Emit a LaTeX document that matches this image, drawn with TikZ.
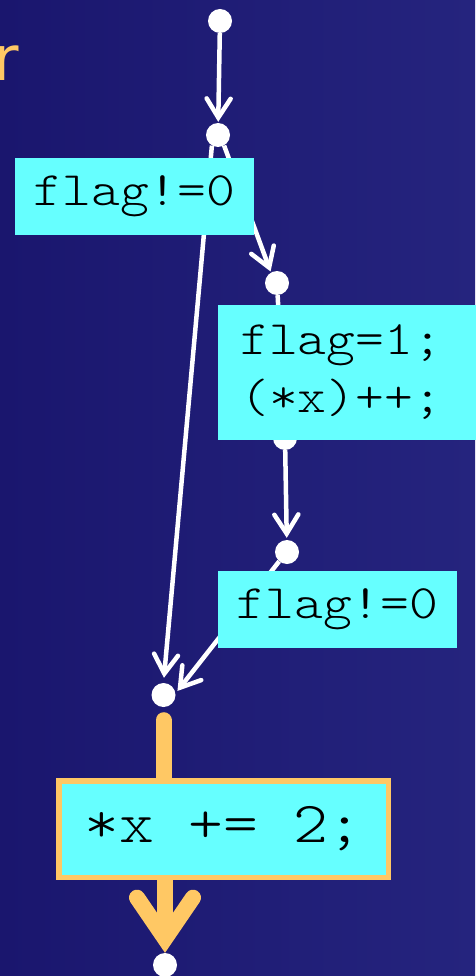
\documentclass[tikz,border=0pt]{standalone}
\usepackage{fontspec}
\newfontfamily\codefont[FakeStretch=1.143]{Latin Modern Mono Light}
\newfontfamily\titlefont{DejaVu Sans}
\usetikzlibrary{arrows.meta}
\definecolor{bgleft}{RGB}{26,22,110}
\definecolor{bgright}{RGB}{37,36,126}
\definecolor{boxcyan}{RGB}{102,255,255}
\definecolor{hlorange}{RGB}{255,200,100}
\pgfdeclarelayer{bg}
\pgfdeclarelayer{edges}
\pgfsetlayers{bg,edges,main}
\begin{document}
\begin{tikzpicture}[x=1pt,y=-1pt,
  dot/.style={circle,fill=white,minimum size=24pt,inner sep=0pt},
  codebox/.style={fill=boxcyan,inner sep=0pt,text=black,
    font=\codefont\fontsize{48}{58}\selectfont},
  flow/.style={draw=white,line width=4.5pt,
    -{Straight Barb[length=19pt,width=24pt,line cap=round,line join=miter]}},
  plainedge/.style={draw=white,line width=4.5pt},
  hot/.style={draw=hlorange,line width=16pt,line cap=round}]
\useasboundingbox (0,0) rectangle (475,976);
\begin{pgfonlayer}{bg}
\shade[left color=bgleft,right color=bgright] (0,0) rectangle (475,976);
\end{pgfonlayer}
\node[text=hlorange,font=\titlefont\fontsize{62}{62}\selectfont,
  anchor=base east,inner sep=0pt] (title) at (19,81) {r};
% dots
\node[dot] (d1) at (220,21) {};
\node[dot] (d2) at (218,135) {};
\node[dot] (d3) at (277,283) {};
\node[dot] (d4) at (285,438) {};
\node[dot] (d5) at (287,552) {};
\node[dot] (d6) at (163.5,695) {};
\node[dot] (d7) at (165,965) {};
% boxes
\node[codebox,minimum width=239pt,minimum height=77pt] (b1) at (134.5,196.5) {flag!=0};
\node[codebox,minimum height=135pt,inner xsep=22pt,text width=240pt,align=left,anchor=west]
  (b2) at (218,372.5) {flag=1;\\(*x)++;};
\node[codebox,minimum width=239pt,minimum height=77pt] (b3) at (337.5,609.5) {flag!=0};
\node[codebox,draw=hlorange,line width=5.5pt,minimum width=329.5pt,minimum height=96.5pt,
  font=\codefont\fontsize{58}{58}\selectfont] (b4) at (223.5,829) {*x += 2;};
% connectors
\begin{pgfonlayer}{edges}
\draw[flow,shorten >=1pt] (d1) -- (d2);
\draw[flow,shorten >=5pt] (d2.-120) -- (d6.north);
\draw[flow,shorten >=1pt] (d2.-60) -- (d3.120);
\draw[plainedge] (d3) -- (d4);
\draw[flow,shorten >=2pt] (d4) -- (d5);
\draw[flow,shorten >=3pt] (d5.-130) -- (d6.8);
\draw[hot,shorten <=13pt] (d6.south) -- (d6.south |- b4.north);
\draw[hot,-{Straight Barb[length=41pt,width=56pt,line cap=round,line join=miter]}]
  (b4.south -| d7) -- (d7.north);
\end{pgfonlayer}
\end{tikzpicture}
\end{document}
